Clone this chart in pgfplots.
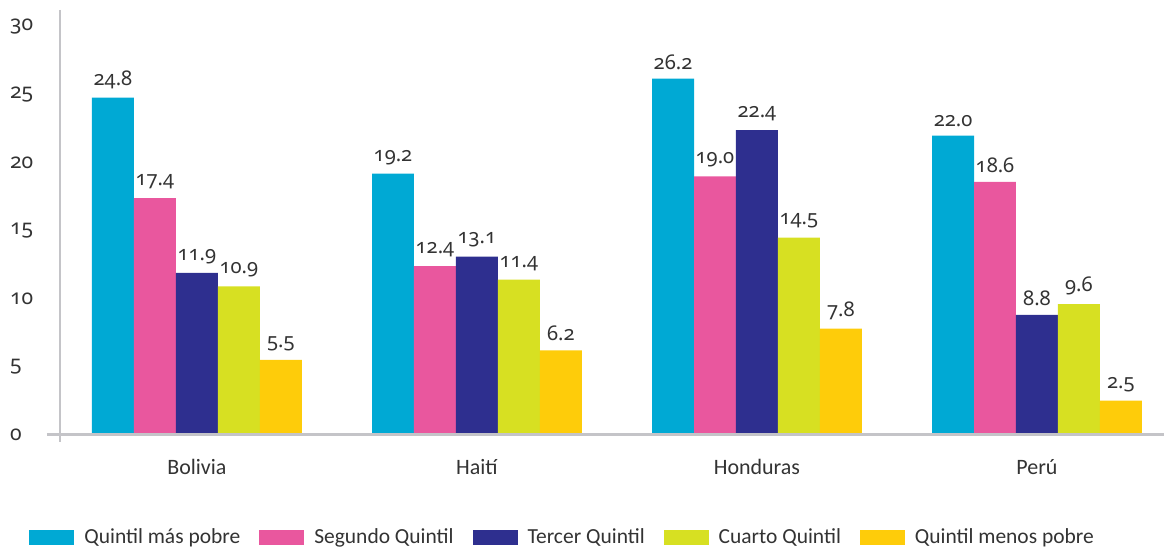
\documentclass[border=0pt]{standalone}
\usepackage{fontspec}
\setmainfont{Carlito}
\newfontfamily\numfont{Noto Sans}[Numbers=OldStyle, Scale=0.92]
\usepackage{pgfplots}
\pgfplotsset{compat=1.18}
\definecolor{qone}{HTML}{00A9D4}
\definecolor{qtwo}{HTML}{E9579E}
\definecolor{qthree}{HTML}{2E2F8F}
\definecolor{qfour}{HTML}{D7E022}
\definecolor{qfive}{HTML}{FECC0A}
\definecolor{axgray}{HTML}{C4C4C8}
\definecolor{txt}{HTML}{333333}
\begin{document}
\begin{tikzpicture}
\begin{axis}[
  scale only axis, width=552.5pt, height=212.5pt,
  xmin=-0.489, xmax=3.453, ymin=0, ymax=31.25,
  clip=false,
  axis line style={draw=none},
  ytick={0,5,10,15,20,25,30},
  xtick={0,1,2,3}, xticklabels={Bolivia,Haití,Honduras,Perú},
  major tick length=0pt,
  /pgf/number format/assume math mode=true,
  tick label style={font=\fontsize{11}{13}\selectfont, text=txt},
  yticklabel style={anchor=west, xshift=-28.5pt, font=\numfont\fontsize{11.5}{13}\selectfont},
  xticklabel style={yshift=-9pt},
  ybar=0pt, bar width=21pt,
  every axis plot/.append style={draw=none},
  nodes near coords={\pgfmathprintnumber[fixed,fixed zerofill,precision=1]{\pgfplotspointmeta}},
  every node near coord/.append style={font=\numfont\fontsize{11}{13}\selectfont, text=txt, yshift=1pt},
  legend columns=5,
  legend style={draw=none, at={(-0.028,-0.242)}, anchor=west, inner sep=0pt,
    font=\fontsize{10.75}{13}\selectfont, text=txt,
    /tikz/every odd column/.append style={column sep=3pt},
    /tikz/every even column/.append style={column sep=7.5pt}},
  legend image code/.code={\fill[#1] (0pt,-3.75pt) rectangle (22.5pt,3.75pt);},
]
\addplot[fill=qone] coordinates {(0,24.8) (1,19.2) (2,26.2) (3,22.0)};
\addplot[fill=qtwo] coordinates {(0,17.4) (1,12.4) (2,19.0) (3,18.6)};
\addplot[fill=qthree] coordinates {(0,11.9) (1,13.1) (2,22.4) (3,8.8)};
\addplot[fill=qfour] coordinates {(0,10.9) (1,11.4) (2,14.5) (3,9.6)};
\addplot[fill=qfive] coordinates {(0,5.5) (1,6.2) (2,7.8) (3,2.5)};
\legend{Quintil más pobre, Segundo Quintil, Tercer Quintil, Cuarto Quintil, Quintil menos pobre}
\draw[axgray, line width=1.2pt] ([xshift=-6.5pt]rel axis cs:0,0) -- (rel axis cs:1,0);
\draw[axgray, line width=1.2pt] (rel axis cs:0,1) -- ([yshift=-3.5pt]rel axis cs:0,0);
\path (rel axis cs:-0.0543,-0.273) rectangle (rel axis cs:1,1.0235);
\end{axis}
\end{tikzpicture}
\end{document}
